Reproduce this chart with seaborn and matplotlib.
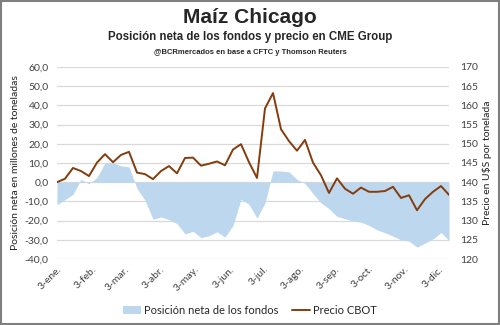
import matplotlib
matplotlib.use("Agg")
import matplotlib.pyplot as plt
from matplotlib.patches import Rectangle, Patch
from matplotlib.lines import Line2D
import seaborn as sns
import pandas as pd
import numpy as np

sns.set_theme(style="white")
plt.rcParams['font.family'] = ['Lato', 'DejaVu Sans']

start_date = "2017-01-03"
n_weeks = 50

fondos = [-11.7, -9.1, -6.3, 1.4, -0.8, 2.5, 10.1, 10.1, 8.5, 8.0,
          -3.3, -9.4, -19.2, -18.1, -19.5, -21.6, -26.9, -25.6, -28.9, -27.9,
          -25.8, -28.6, -22.5, -8.9, -11.5, -18.7, -10.8, 5.9, 5.8, 5.4,
          1.4, -0.7, -5.9, -10.8, -13.8, -17.8, -19.0, -20.2, -20.8, -22.5,
          -24.8, -26.3, -28.1, -30.0, -30.7, -33.8, -31.7, -29.5, -26.2, -30.4]

precio = [140.0, 140.9, 143.7, 142.9, 141.6, 145.1, 147.3, 145.2, 147.1, 147.9,
          142.5, 142.1, 140.8, 142.9, 144.2, 142.3, 146.3, 146.4, 144.3, 144.8,
          145.4, 144.4, 148.5, 149.9, 145.2, 141.1, 159.2, 163.2, 153.8, 150.7,
          148.2, 151.0, 145.1, 141.8, 137.2, 141.0, 138.3, 137.0, 138.6, 137.5,
          137.5, 137.7, 138.8, 135.9, 136.6, 132.7, 135.6, 137.5, 139.0, 136.7]

meses = ["ene.", "feb.", "mar.", "abr.", "may.", "jun.", "jul.", "ago.",
         "sep.", "oct.", "nov.", "dic."]

fechas = pd.date_range(start_date, periods=n_weeks, freq="7D")
df = pd.DataFrame({"fecha": fechas, "fondos": fondos, "precio": precio})

fig = plt.figure(figsize=(5.0, 3.25), dpi=100)
ax = fig.add_axes([0.114, 0.203, 0.784, 0.591])
ax2 = ax.twinx()

blue = "#BDD7EE"
brown = "#843C0C"

ax.fill_between(df["fecha"], df["fondos"], 0, color=blue, linewidth=0, zorder=2)
sns.lineplot(data=df, x="fecha", y="precio", ax=ax2, color=brown, linewidth=1.4)

ax.set_ylim(-40, 60)
ax.set_yticks(np.arange(-40, 61, 10))
ax.set_yticklabels([f"{v:.1f}".replace(".", ",") for v in np.arange(-40, 61, 10)])
ax2.set_ylim(120, 170)
ax2.set_yticks(np.arange(120, 171, 5))
ax.set_xlim(fechas[0], fechas[-1])

ax.grid(axis="y", color="#D9D9D9", linewidth=0.9, zorder=0)
ax.set_axisbelow(True)
ax2.grid(False)
for a in (ax, ax2):
    for s in a.spines.values():
        s.set_visible(False)

tick_dates = [pd.Timestamp(2017, m, 3) for m in range(1, 13)]
ax.set_xticks(tick_dates)
ax.set_xticklabels([f"3-{m}" for m in meses], rotation=45, ha="right",
                   rotation_mode="anchor", fontsize=7.5, color="#404040")
ax.tick_params(axis="x", length=0, pad=4)
ax.tick_params(axis="y", length=0, labelsize=7.5, labelcolor="#404040", pad=6)
ax2.tick_params(axis="y", length=0, labelsize=7.5, labelcolor="#404040", pad=8)

ax.set_xlabel("")
ax2.set_xlabel("")
ax.set_ylabel("Posición neta en millones de toneladas", fontsize=7.5, color="#222222", labelpad=3)
ax2.set_ylabel("Precio en U$S por tonelada", fontsize=7.5, color="#222222", labelpad=3)

title_font = ['Liberation Sans', 'DejaVu Sans']
fig.text(0.5, 0.945, "Maíz Chicago", ha="center", va="center", fontsize=15,
         fontweight="bold", family=title_font)
fig.text(0.5, 0.885, "Posición neta de los fondos y precio en CME Group", ha="center",
         va="center", fontsize=8.3, fontweight="bold", family=title_font)
fig.text(0.5, 0.838, "@BCRmercados en base a CFTC y Thomson Reuters", ha="center",
         va="center", fontsize=5.5, fontweight="bold", family=title_font)

handles = [Patch(facecolor=blue, edgecolor="none"),
           Line2D([0], [0], color=brown, linewidth=1.4)]
fig.legend(handles, ["Posición neta de los fondos", "Precio CBOT"], loc="center",
           bbox_to_anchor=(0.5, 0.045), ncol=2, frameon=False, fontsize=8,
           handlelength=1.6, handletextpad=0.3, columnspacing=1.2)

fig.patches.append(Rectangle((0.002, 0.003), 0.996, 0.994, transform=fig.transFigure,
                             fill=False, edgecolor="#7F7F7F", linewidth=1.5))

fig.savefig("out.png", dpi=100)
